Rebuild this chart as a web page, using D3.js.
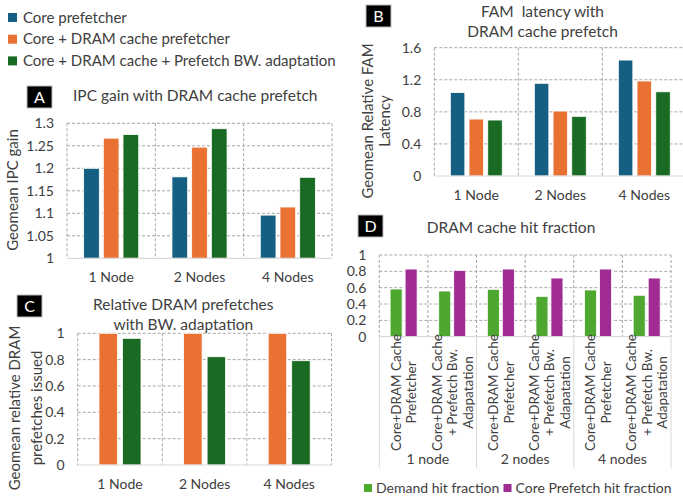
<!DOCTYPE html>
<html>
<head>
<meta charset="utf-8">
<script src="https://cdn.jsdelivr.net/npm/d3@7"></script>
<style>
  body { margin: 0; background: #fff; }
  svg { font-family: Lato, "Noto Sans", sans-serif; }
  text { white-space: pre; }
  .tick-label { font-size: 14px; fill: #404040; }
  .title { font-size: 15.5px; fill: #404040; }
</style>
</head>
<body>
<svg width="683" height="500"></svg>
<script>
var seriesNames = ["Core prefetcher", "Core + DRAM cache prefetcher", "Core + DRAM cache + Prefetch BW. adaptation"];
var nodes = ["1 Node", "2 Nodes", "4 Nodes"];

// panel A: geomean IPC gain
var ipcCore = [1.200, 1.181, 1.096];
var ipcDram = [1.267, 1.247, 1.114];
var ipcBw   = [1.275, 1.288, 1.180];

// panel B: geomean relative FAM latency
var famCore = [1.040, 1.156, 1.446];
var famDram = [0.710, 0.810, 1.185];
var famBw   = [0.698, 0.744, 1.050];

// panel C: relative DRAM prefetches issued
var prefDram = [1, 1, 1];
var prefBw   = [0.962, 0.822, 0.792];

// panel D: DRAM cache hit fraction
var hitGroups = ["1 node", "2 nodes", "4 nodes"];
var hitConfigs = [["Core+DRAM Cache", "Prefetcher"], ["Core+DRAM Cache", "+ Prefetch Bw.", "Adapatation"]];
var demandHit   = [0.584, 0.559, 0.580, 0.494, 0.572, 0.507];
var prefetchHit = [0.828, 0.812, 0.828, 0.718, 0.828, 0.718];
var hitSeries = ["Demand hit fraction", "Core Prefetch hit fraction"];

var blue = "#156082", orange = "#E97132", green = "#196B24",
    lightGreen = "#4EA72E", purple = "#A02B93";

var svg = d3.select("svg");

function fmt(d) { return String(+d.toFixed(2)); }

function panel(o) {
  var g = svg.append("g");
  var x = d3.scaleBand().domain(d3.range(o.cats.length)).range([o.left, o.right]);
  var y = d3.scaleLinear().domain(o.domain).range([o.bottom, o.top]);
  var n = o.series.length;
  var groupW = n * o.barW + (n - 1) * o.gap;
  var inner = d3.scaleBand().domain(d3.range(n))
      .range([-groupW / 2, groupW / 2])
      .paddingInner(o.gap / (o.barW + o.gap));

  // horizontal grid
  g.selectAll(".hgrid").data(o.ticks.filter(function(t) { return t !== o.domain[0]; }))
    .enter().append("line")
      .attr("x1", o.left).attr("x2", o.right)
      .attr("y1", function(d) { return y(d); }).attr("y2", function(d) { return y(d); })
      .attr("stroke", "#a6a6a6").attr("stroke-dasharray", "3,2").attr("stroke-width", 1);

  // vertical grid at band edges
  var edges = d3.range(o.cats.length + 1).map(function(i) { return o.left + i * x.step(); });
  g.selectAll(".vgrid").data(edges).enter().append("line")
      .attr("x1", function(d) { return d; }).attr("x2", function(d) { return d; })
      .attr("y1", o.top).attr("y2", o.bottom)
      .attr("stroke", "#a6a6a6").attr("stroke-dasharray", "3,2").attr("stroke-width", 1);

  // bars
  o.series.forEach(function(vals, si) {
    g.selectAll(".bar" + si).data(vals).enter().append("rect")
      .attr("x", function(d, i) { return x(i) + x.bandwidth() / 2 + inner(si); })
      .attr("width", inner.bandwidth())
      .attr("y", function(d) { return y(d); })
      .attr("height", function(d) { return o.bottom - y(d); })
      .attr("fill", o.colors[si])
      .attr("stroke", "#fff").attr("stroke-width", 0.8);
  });

  // axis line
  g.append("line").attr("x1", o.left).attr("x2", o.right)
    .attr("y1", o.bottom).attr("y2", o.bottom)
    .attr("stroke", "#d9d9d9").attr("stroke-width", 1.2);

  // y tick labels
  g.selectAll(".ytick").data(o.ticks).enter().append("text")
    .attr("class", "tick-label")
    .attr("x", o.left - 13).attr("y", function(d) { return y(d); })
    .attr("dy", "0.35em").attr("text-anchor", "end")
    .text(fmt);

  // category labels
  if (o.catY) {
    g.selectAll(".xlab").data(o.cats).enter().append("text")
      .attr("class", "tick-label")
      .attr("x", function(d, i) { return x(i) + x.bandwidth() / 2; })
      .attr("y", o.catY).attr("text-anchor", "middle")
      .text(function(d) { return d; });
  }

  // title
  o.title.forEach(function(t, i) {
    g.append("text").attr("class", "title")
      .attr("x", o.titleX).attr("y", o.titleY + i * 20)
      .attr("text-anchor", o.titleAnchor || "middle")
      .text(t);
  });

  // y axis title (rotated)
  o.yTitle.forEach(function(t, i) {
    g.append("text")
      .attr("transform", "translate(" + (o.yTitleX + i * (o.yTitleGap || 19)) + "," + o.yTitleY + ") rotate(-90)")
      .attr("text-anchor", "middle")
      .style("font-size", "15px").style("fill", "#404040")
      .text(t);
  });

  // letter box
  g.append("rect").attr("x", o.box[0]).attr("y", o.box[1])
    .attr("width", 25).attr("height", 22)
    .attr("fill", "#000").attr("stroke", "#bbb").attr("stroke-width", 1);
  g.append("text").attr("x", o.box[0] + 12.5).attr("y", o.box[1] + 17)
    .attr("text-anchor", "middle").style("font-size", "16px").style("fill", "#fff")
    .text(o.letter);

  return { x: x, y: y };
}

// legend
var leg = svg.append("g").selectAll("g").data(seriesNames).enter().append("g")
  .attr("transform", function(d, i) { return "translate(8," + (13 + i * 21.7) + ")"; });
leg.append("rect").attr("width", 9).attr("height", 9)
  .attr("fill", function(d, i) { return [blue, orange, green][i]; });
leg.append("text").attr("x", 15).attr("y", 9.5)
  .style("font-size", "15px").style("fill", "#404040")
  .text(function(d) { return d; });

panel({
  letter: "A", box: [27, 86],
  cats: nodes, series: [ipcCore, ipcDram, ipcBw], colors: [blue, orange, green],
  left: 67, right: 332, top: 123.3, bottom: 258.3,
  domain: [1, 1.3], ticks: [1, 1.05, 1.1, 1.15, 1.2, 1.25, 1.3],
  barW: 15.7, gap: 4, catY: 282,
  title: ["IPC gain with DRAM cache prefetch"], titleX: 73, titleY: 101, titleAnchor: "start",
  yTitle: ["Geomean IPC gain"], yTitleX: 18, yTitleY: 190
});

panel({
  letter: "B", box: [366, 5],
  cats: nodes, series: [famCore, famDram, famBw], colors: [blue, orange, green],
  left: 434.3, right: 686.3, top: 47.7, bottom: 176,
  domain: [0, 1.6], ticks: [0, 0.4, 0.8, 1.2, 1.6],
  barW: 14.5, gap: 4.2, catY: 199.5,
  title: ["FAM  latency with", "DRAM cache prefetch"], titleX: 542.5, titleY: 17,
  yTitle: ["Geomean Relative FAM", "Latency"], yTitleX: 373, yTitleY: 121, yTitleGap: 17
});

panel({
  letter: "C", box: [17, 295],
  cats: nodes, series: [prefDram, prefBw], colors: [orange, green],
  left: 77.7, right: 331.5, top: 333.3, bottom: 465,
  domain: [0, 1], ticks: [0, 0.2, 0.4, 0.6, 0.8, 1],
  barW: 18.5, gap: 5, catY: 488.5,
  title: ["Relative DRAM prefetches", "with BW. adaptation"], titleX: 183.3, titleY: 310,
  yTitle: ["Geomean relative DRAM", "prefetches issued"], yTitleX: 20, yTitleY: 408, yTitleGap: 21.5
});

var hitCats = [];
hitGroups.forEach(function(gName) { hitConfigs.forEach(function(c) { hitCats.push(c); }); });

var d = panel({
  letter: "D", box: [358, 215],
  cats: hitCats, series: [demandHit, prefetchHit], colors: [lightGreen, purple],
  left: 379.3, right: 671, top: 255, bottom: 336.7,
  domain: [0, 1], ticks: [0, 0.2, 0.4, 0.6, 0.8, 1],
  barW: 12, gap: 3, catY: null,
  title: ["DRAM cache hit fraction"], titleX: 511, titleY: 233,
  yTitle: [], yTitleX: 0, yTitleY: 0
});

// D: rotated multi-line category labels
var dl = svg.append("g");
hitCats.forEach(function(lines, i) {
  var cx = d.x(i) + d.x.bandwidth() / 2;
  lines.forEach(function(t, li) {
    var lx = cx + (li - (lines.length - 1) / 2) * 15.6 + 5;
    dl.append("text")
      .attr("transform", "translate(" + lx + ",392.5) rotate(-90)")
      .attr("text-anchor", "middle").attr("class", "tick-label")
      .style("font-size", "13.5px")
      .text(t);
  });
});
// D: group separators and group labels
var gStep = d.x.step() * 2;
dl.selectAll(".gsep").data(d3.range(hitGroups.length + 1)).enter().append("line")
  .attr("x1", function(i) { return 379.3 + i * gStep; })
  .attr("x2", function(i) { return 379.3 + i * gStep; })
  .attr("y1", 336.7).attr("y2", 468)
  .attr("stroke", "#d9d9d9").attr("stroke-width", 1);
dl.selectAll(".glab").data(hitGroups).enter().append("text")
  .attr("class", "tick-label")
  .attr("x", function(g, i) { return 379.3 + (i + 0.5) * gStep; })
  .attr("y", 463.5).attr("text-anchor", "middle")
  .text(function(g) { return g; });

// D legend
var dleg = svg.append("g").selectAll("g").data(hitSeries).enter().append("g")
  .attr("transform", function(g, i) { return "translate(" + [364, 503.5][i] + ",484)"; });
dleg.append("rect").attr("width", 8).attr("height", 8)
  .attr("fill", function(g, i) { return [lightGreen, purple][i]; });
dleg.append("text").attr("x", 12).attr("y", 8.5)
  .attr("class", "tick-label")
  .text(function(g) { return g; });
</script>
</body>
</html>
